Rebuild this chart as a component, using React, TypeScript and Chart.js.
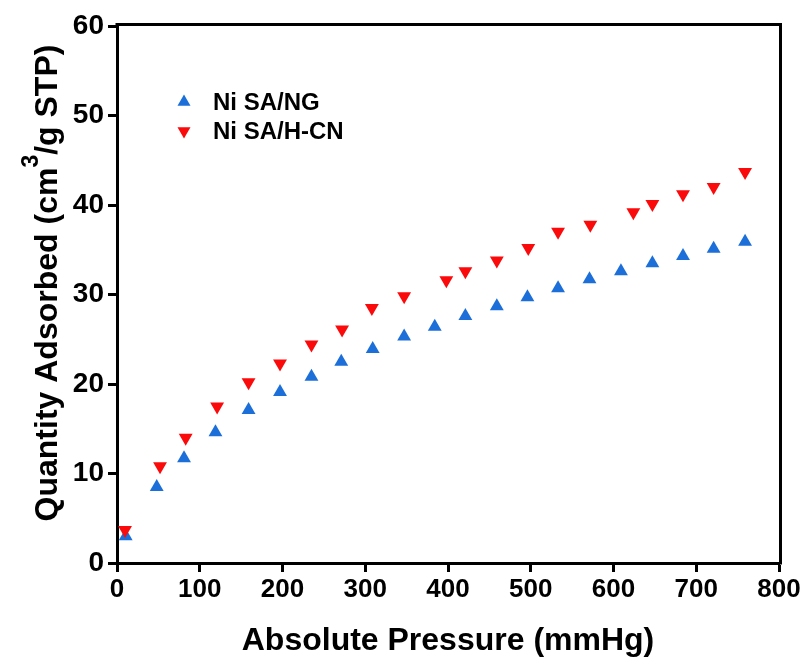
import React, { useEffect, useRef } from "react";
import { Chart, registerables } from "chart.js";

Chart.register(...registerables);

// ---- data ----
const seriesNames = ["Ni SA/NG", "Ni SA/H-CN"];
const ngPressure = [10.5, 48, 81, 119, 159, 197, 235, 271, 309, 347, 384, 421, 459, 496, 533, 571, 609, 647, 684, 721, 759];
const ngQuantity = [3.0, 8.5, 11.7, 14.6, 17.1, 19.1, 20.8, 22.5, 23.9, 25.3, 26.4, 27.6, 28.7, 29.7, 30.7, 31.7, 32.6, 33.5, 34.3, 35.1, 35.9];
const hcnPressure = [9.7, 52, 83, 121, 159, 197, 235, 272, 308, 347, 398, 421, 459, 497, 533, 572, 624, 647, 684, 721, 759];
const hcnQuantity = [3.7, 10.8, 14.0, 17.5, 20.2, 22.3, 24.4, 26.1, 28.5, 29.8, 31.6, 32.6, 33.8, 35.2, 37.0, 37.8, 39.2, 40.1, 41.2, 42.0, 43.7];
const xTicks = [0, 100, 200, 300, 400, 500, 600, 700, 800];
const yTicks = [0, 10, 20, 30, 40, 50, 60];
const xTitle = "Absolute Pressure (mmHg)";
const yTitleParts = ["Quantity Adsorbed (cm", "3", "/g STP)"];

const BLUE = "#1c6fd9";
const RED = "#fa0a0a";
const FONT = '"Liberation Sans", Arial, sans-serif';

const framePlugin = {
  id: "frame",
  afterDraw(chart: any) {
    const { ctx, chartArea } = chart;
    const { left, right, top, bottom } = chartArea;
    ctx.save();
    ctx.strokeStyle = "#000";
    ctx.lineWidth = 3;
    ctx.beginPath();
    ctx.moveTo(left - 1.5, top - 1.5);
    ctx.lineTo(right + 1.5, top - 1.5);
    ctx.lineTo(right + 1.5, bottom + 1.5);
    ctx.stroke();

    // y-axis title with superscript
    ctx.fillStyle = "#000";
    const big = `bold 32px ${FONT}`;
    const small = `bold 23px ${FONT}`;
    ctx.font = big;
    const w0 = ctx.measureText(yTitleParts[0]).width;
    const w2 = ctx.measureText(yTitleParts[2]).width;
    ctx.font = small;
    const w1 = ctx.measureText(yTitleParts[1]).width;
    const total = w0 + w1 + w2;
    const cy = 283;
    ctx.translate(48, cy);
    ctx.rotate(-Math.PI / 2);
    ctx.textBaseline = "middle";
    ctx.textAlign = "left";
    let x = -total / 2;
    ctx.font = big;
    ctx.fillText(yTitleParts[0], x, 0);
    x += w0;
    ctx.font = small;
    ctx.fillText(yTitleParts[1], x, -16);
    x += w1;
    ctx.font = big;
    ctx.fillText(yTitleParts[2], x, 0);
    ctx.restore();

    // legend
    ctx.save();
    const ds = chart.data.datasets;
    ds.forEach((d: any, i: number) => {
      const lx = left + 67;
      const ly = top + 76 + i * 29;
      const r = 7.5;
      ctx.fillStyle = d.backgroundColor;
      ctx.beginPath();
      const s = d.rotation === 180 ? -1 : 1;
      ctx.moveTo(lx, ly - s * r);
      ctx.lineTo(lx + r * Math.sin((2 * Math.PI) / 3), ly + s * r / 2);
      ctx.lineTo(lx - r * Math.sin((2 * Math.PI) / 3), ly + s * r / 2);
      ctx.closePath();
      ctx.fill();
      ctx.fillStyle = "#000";
      ctx.font = `bold 24px ${FONT}`;
      ctx.textBaseline = "middle";
      ctx.textAlign = "left";
      ctx.fillText(d.label, lx + 29, ly + 1);
    });
    ctx.restore();
  },
};

export default function App() {
  const ref = useRef<HTMLCanvasElement>(null);
  useEffect(() => {
    if (!ref.current) return;
    const chart = new Chart(ref.current, {
      type: "scatter",
      data: {
        datasets: [
          {
            label: seriesNames[0],
            data: ngPressure.map((p, i) => ({ x: p, y: ngQuantity[i] })),
            backgroundColor: BLUE,
            borderWidth: 0,
            pointStyle: "triangle",
            rotation: 0,
            pointRadius: 8,
            order: 1,
          },
          {
            label: seriesNames[1],
            data: hcnPressure.map((p, i) => ({ x: p, y: hcnQuantity[i] })),
            backgroundColor: RED,
            borderWidth: 0,
            pointStyle: "triangle",
            rotation: 180,
            pointRadius: 8,
            order: 0,
          },
        ],
      },
      options: {
        animation: false,
        responsive: false,
        layout: { padding: { top: 26, right: 31, left: 0, bottom: 0 } },
        plugins: { legend: { display: false }, tooltip: { enabled: false } },
        scales: {
          x: {
            type: "linear",
            min: 0,
            max: 800,
            afterBuildTicks: (s: any) => {
              s.ticks = xTicks.map((v) => ({ value: v }));
            },
            afterFit: (s: any) => {
              s.height = 103;
            },
            ticks: { color: "#000", font: { family: FONT, size: 26, weight: "bold" }, padding: 2, maxRotation: 0 },
            grid: { drawOnChartArea: false, drawTicks: true, tickLength: 9, tickWidth: 3, tickColor: "#000" },
            border: { display: true, width: 3, color: "#000" },
            title: {
              display: true,
              text: xTitle,
              color: "#000",
              font: { family: FONT, size: 32, weight: "bold" },
              padding: { top: 0, bottom: 6 },
            },
          },
          y: {
            type: "linear",
            min: 0,
            max: 60,
            afterBuildTicks: (s: any) => {
              s.ticks = yTicks.map((v) => ({ value: v }));
            },
            afterFit: (s: any) => {
              s.width = 117;
            },
            ticks: { color: "#000", font: { family: FONT, size: 28, weight: "bold" }, padding: 4 },
            grid: { drawOnChartArea: false, drawTicks: true, tickLength: 9, tickWidth: 3, tickColor: "#000" },
            border: { display: true, width: 3, color: "#000" },
          },
        },
      },
      plugins: [framePlugin],
    });
    return () => chart.destroy();
  }, []);
  return (
    <div style={{ position: "fixed", left: 0, top: 0, width: 810, height: 666, background: "#fff" }}>
      <canvas ref={ref} width={810} height={666} />
    </div>
  );
}
